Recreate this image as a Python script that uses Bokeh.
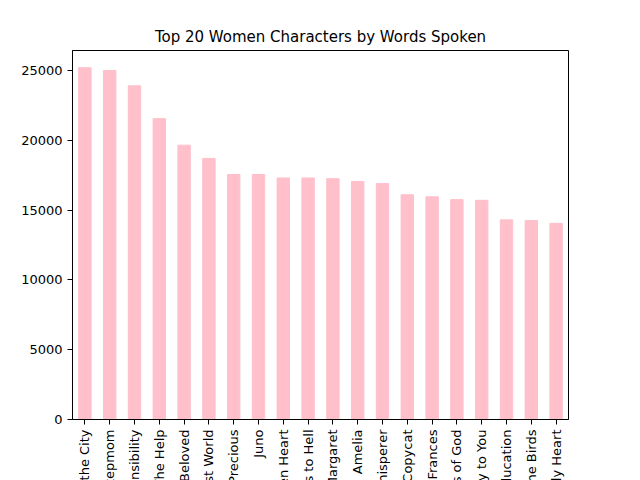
import math
from bokeh.plotting import figure
from bokeh.models import ColumnDataSource, FactorRange, Range1d
from bokeh.embed import file_html
from bokeh.resources import INLINE

titles = ["Sex and the City", "Stepmom", "Sense and Sensibility", "The Help", "Beloved",
          "Ghost World", "Precious", "Juno", "Fried Green Heart", "Hocus Pocus to Hell",
          "Margaret", "Amelia", "The Horse Whisperer", "Copycat", "Frances",
          "Agnes of God", "Things I Say to You", "An Education", "The Birds", "Lonely Heart"]
words = [25200, 25000, 23900, 21550, 19650, 18700, 17550, 17550, 17300, 17300,
         17250, 17050, 16900, 16100, 15950, 15750, 15700, 14300, 14250, 14050]

source = ColumnDataSource(dict(title=titles, words=words))

# the frame is pinned; the long labels run past the window bottom, as in the reference
p = figure(frame_width=496, frame_height=369, x_range=FactorRange(*titles, range_padding=0),
           y_range=Range1d(0, 26430), title="Top 20 Women Characters by Words Spoken",
           output_backend="svg", toolbar_location=None,
           min_border_left=72, min_border_right=56, min_border_top=50, min_border_bottom=45)
p.vbar(x="title", top="words", width=0.5, color="pink", source=source)

p.title.align = "center"
p.title.text_font = "DejaVu Sans"
p.title.text_font_size = "15px"
p.title.text_font_style = "normal"
p.title.text_color = "black"
p.xgrid.visible = False
p.ygrid.visible = False
p.outline_line_color = "black"
for ax in (p.xaxis, p.yaxis):
    ax.major_label_text_font = "DejaVu Sans"
    ax.major_label_text_font_size = "13px"
    ax.major_label_text_color = "black"
    ax.axis_line_color = "black"
    ax.major_tick_line_color = "black"
    ax.major_tick_in = 0
    ax.major_tick_out = 5
p.yaxis.minor_tick_line_color = None
p.yaxis.ticker = [0, 5000, 10000, 15000, 20000, 25000]
p.xaxis.major_label_orientation = math.pi / 2

open("out.html", "w").write(file_html(p, INLINE))
